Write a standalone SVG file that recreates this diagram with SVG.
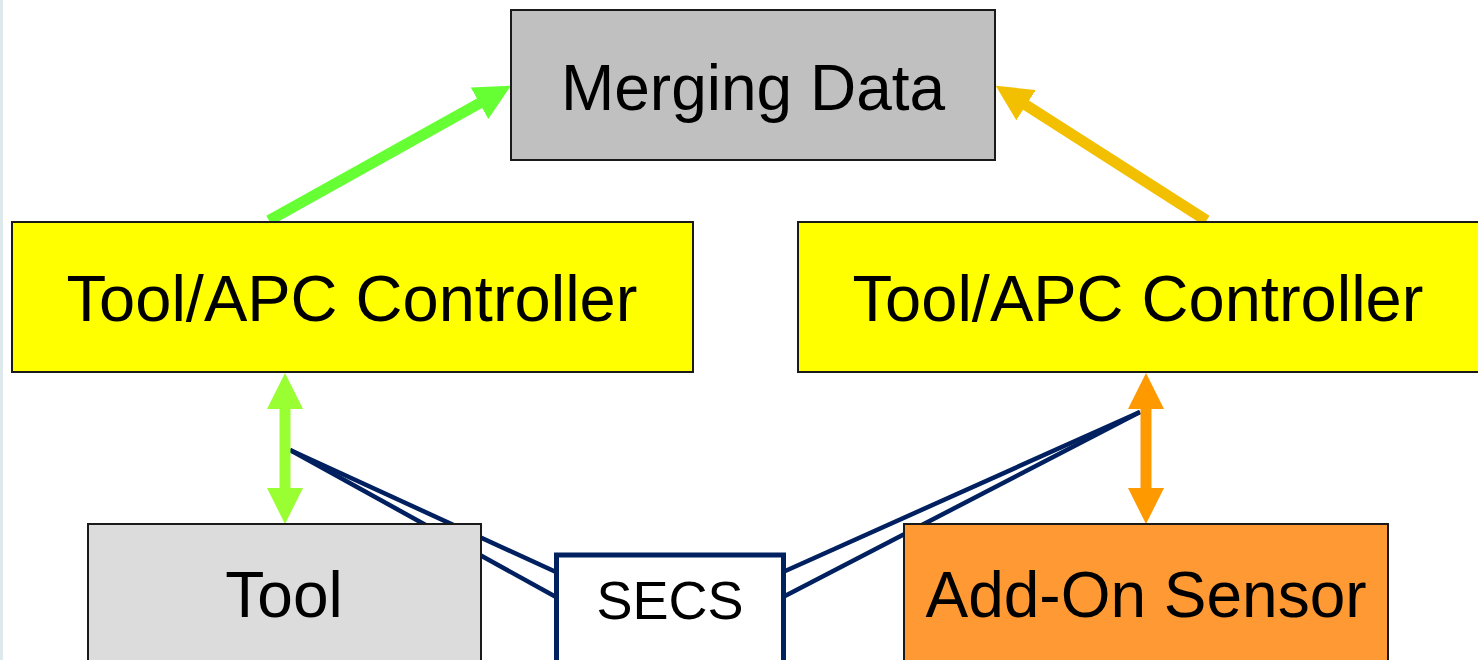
<svg xmlns="http://www.w3.org/2000/svg" width="1478" height="660" viewBox="0 0 1478 660">
  <style>
    .box { stroke: #1a1a1a; stroke-width: 2; }
    .label { font-family: "Liberation Sans", Arial, sans-serif; font-size: 64px; fill: #000; text-anchor: middle; }
    .ctrl-label { font-size: 65px; }
    .secs-label { font-size: 54px; }
    .link { stroke: #002060; stroke-width: 4.5; fill: none; }
    .flow { fill: none; stroke-width: 11; stroke-linecap: butt; }
  </style>
  <defs>
    <marker id="head-lime" viewBox="0 0 36 36" refX="1" refY="18" markerWidth="36" markerHeight="36" markerUnits="userSpaceOnUse" orient="auto-start-reverse">
      <path d="M0,0 L36,18 L0,36 z" fill="#66FF33"/>
    </marker>
    <marker id="head-gold" viewBox="0 0 36 36" refX="1" refY="18" markerWidth="36" markerHeight="36" markerUnits="userSpaceOnUse" orient="auto-start-reverse">
      <path d="M0,0 L36,18 L0,36 z" fill="#F2C000"/>
    </marker>
    <marker id="head-green" viewBox="0 0 36 36" refX="1" refY="18" markerWidth="36" markerHeight="36" markerUnits="userSpaceOnUse" orient="auto-start-reverse">
      <path d="M0,0 L36,18 L0,36 z" fill="#99FF33"/>
    </marker>
    <marker id="head-orange" viewBox="0 0 36 36" refX="1" refY="18" markerWidth="36" markerHeight="36" markerUnits="userSpaceOnUse" orient="auto-start-reverse">
      <path d="M0,0 L36,18 L0,36 z" fill="#FF9900"/>
    </marker>
  </defs>

  <rect x="0" y="0" width="1478" height="660" fill="#ffffff"/>
  <rect x="0" y="0" width="3" height="660" fill="#dde9eb"/>

  <!-- connectors -->
  <g id="connectors">
    <!-- SECS links -->
    <line class="link" x1="290" y1="450" x2="556" y2="572"/>
    <line class="link" x1="290" y1="450" x2="556" y2="597"/>
    <line class="link" x1="1140" y1="412" x2="783" y2="572"/>
    <line class="link" x1="1140" y1="412" x2="783" y2="597"/>
    <!-- controllers to merging data -->
    <line class="flow" stroke="#66FF33" x1="269" y1="220.5" x2="480.4" y2="102.7" marker-end="url(#head-lime)"/>
    <line class="flow" stroke="#F2C000" x1="1206.5" y1="220.5" x2="1025.2" y2="104.6" marker-end="url(#head-gold)"/>
    <!-- controller <-> equipment -->
    <line class="flow" stroke="#99FF33" x1="285" y1="408" x2="285" y2="489" marker-start="url(#head-green)" marker-end="url(#head-green)"/>
    <line class="flow" stroke="#FF9900" x1="1146" y1="408" x2="1146" y2="489" marker-start="url(#head-orange)" marker-end="url(#head-orange)"/>
  </g>

  <g id="merging-data">
    <rect class="box" x="511" y="10" width="484" height="150" fill="#C0C0C0"/>
    <text class="label" x="753" y="110">Merging Data</text>
  </g>

  <g id="controller-left">
    <rect class="box" x="12" y="222" width="681" height="150" fill="#FFFF00"/>
    <text class="label ctrl-label" x="352" y="321">Tool/APC Controller</text>
  </g>

  <g id="controller-right">
    <rect class="box" x="798" y="222" width="681" height="150" fill="#FFFF00"/>
    <text class="label ctrl-label" x="1138" y="321">Tool/APC Controller</text>
  </g>

  <g id="tool">
    <rect class="box" x="88" y="524" width="393" height="150" fill="#DCDCDC"/>
    <text class="label" x="284" y="617">Tool</text>
  </g>

  <g id="secs">
    <rect x="556.5" y="555" width="227" height="120" fill="#ffffff" stroke="#002060" stroke-width="5"/>
    <text class="label secs-label" x="670" y="619">SECS</text>
  </g>

  <g id="add-on-sensor">
    <rect class="box" x="904" y="524" width="484" height="150" fill="#FF9933"/>
    <text class="label" x="1146" y="617">Add-On Sensor</text>
  </g>
</svg>
